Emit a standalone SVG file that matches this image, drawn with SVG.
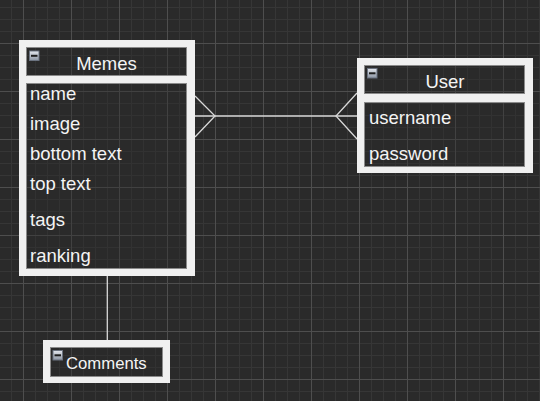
<svg xmlns="http://www.w3.org/2000/svg" xmlns:xlink="http://www.w3.org/1999/xlink" width="540" height="401" viewBox="0 0 540 401">
<style>
.frame{fill:#f0f0f0;fill-rule:evenodd}
.cell{fill:#2a2a2a;fill-opacity:0.35;stroke:#8a8a8a;stroke-width:1}
.t{font-family:"Liberation Sans",Arial,sans-serif;font-size:18.5px;fill:#f4f4f4}
.title{text-anchor:middle}
.conn{stroke:#d8d8d8;stroke-width:1.3;fill:none}
</style>
<defs>
<pattern id="grid" x="23" y="43" width="48" height="48" patternUnits="userSpaceOnUse">
<rect width="48" height="48" fill="#2a2a2a"/>
<path d="M12.5,0V48M24.5,0V48M36.5,0V48M0,12.5H48M0,24.5H48M0,36.5H48" stroke="#363636" stroke-width="1"/>
<path d="M0.5,0V48M0,0.5H48" stroke="#4e4e4e" stroke-width="1"/>
</pattern>
<linearGradient id="ig" x1="0" y1="0" x2="0" y2="1">
<stop offset="0" stop-color="#e4e8ee"/>
<stop offset="1" stop-color="#8c95a3"/>
</linearGradient>
<g id="icon">
<rect x="0.5" y="0.5" width="9.5" height="9.5" fill="url(#ig)" stroke="#6b7380" stroke-width="1"/>
<rect x="2" y="4.3" width="6.5" height="2" fill="#1e1e1e"/>
</g>
</defs>
<rect width="540" height="401" fill="url(#grid)"/>

<g id="connectors">
<path class="conn" d="M195,116H357"/>
<path class="conn" d="M195,96L215,116L195,137"/>
<path class="conn" d="M357,93L336,116L357,139"/>
<path class="conn" stroke="#bdbdbd" d="M107.3,276V340"/>
</g>

<g id="memes">
<path class="frame" d="M19,40H195V276H19Z M26,47V76H187V47Z M26,83V269H187V83Z"/>
<rect class="cell" x="26.5" y="47.5" width="160" height="28"/>
<rect class="cell" x="26.5" y="83.5" width="160" height="185"/>
<use xlink:href="#icon" x="29" y="50.5"/>
<text class="t title" x="106.5" y="70">Memes</text>
<text class="t" x="30" y="99.5">name</text>
<text class="t" x="30" y="129.5">image</text>
<text class="t" x="30" y="159.5">bottom text</text>
<text class="t" x="30" y="189.5">top text</text>
<text class="t" x="30" y="225.5">tags</text>
<text class="t" x="30" y="261.5">ranking</text>
</g>

<g id="user">
<path class="frame" d="M357,58H533V173H357Z M364,65V94H525V65Z M364,102V167H525V102Z"/>
<rect class="cell" x="364.5" y="65.5" width="160" height="28"/>
<rect class="cell" x="364.5" y="102.5" width="160" height="64"/>
<use xlink:href="#icon" x="367" y="68"/>
<text class="t title" x="445" y="87.5">User</text>
<text class="t" x="369" y="123.5">username</text>
<text class="t" x="369" y="159.5">password</text>
</g>

<g id="comments">
<path class="frame" d="M43,340H170V383H43Z M50,347V377H163V347Z"/>
<rect class="cell" x="50.5" y="347.5" width="112" height="29"/>
<use xlink:href="#icon" x="52.5" y="350"/>
<text class="t" style="font-size:16.7px" x="66" y="369">Comments</text>
</g>
</svg>
